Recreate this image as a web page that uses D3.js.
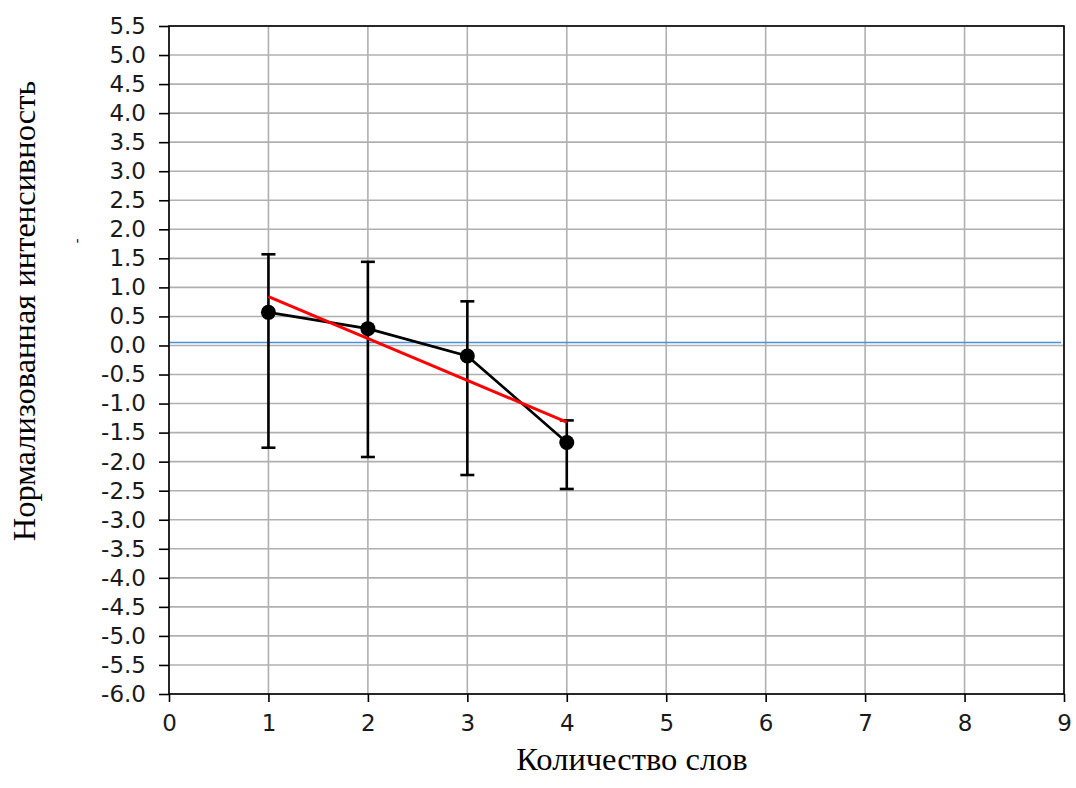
<!DOCTYPE html>
<html>
<head>
<meta charset="utf-8">
<script src="https://cdn.jsdelivr.net/npm/d3@7/dist/d3.min.js"></script>
<style>
  html, body { margin: 0; padding: 0; background: #fff; }
  .tick text { font-family: "DejaVu Sans", sans-serif; font-size: 23px; fill: #1a1a1a; }
  .lbl { font-family: "Liberation Serif", "Times New Roman", serif; font-size: 32.5px; fill: #000; }
</style>
</head>
<body>
<svg id="chart" width="1076" height="788"></svg>
<script>
// Normalised intensity vs number of words, with error bars and a linear fit.
const words = [1, 2, 3, 4];
const meanVals = [0.57, 0.29, -0.18, -1.67];
const errTop = [1.57, 1.44, 0.76, -1.29];
const errBottom = [-1.76, -1.92, -2.23, -2.47];
const fitX = [1, 4];
const fitY = [0.84, -1.32];
const baseX = [0, 8.97];
const baseY = [0.05, 0.05];
const xTicks = d3.range(0, 10, 1);
const yTicks = d3.range(-6, 5.51, 0.5);

const m = { t: 26, r: 12, b: 94, l: 169 };
const W = 1076, H = 788;
const svg = d3.select("#chart");
const x = d3.scaleLinear().domain([0, 9]).range([m.l, W - m.r]);
const y = d3.scaleLinear().domain([-6, 5.5]).range([H - m.b, m.t]);
// plain hyphen as the minus sign, like the reference
const yFmt = (d) => d3.format(".1f")(d).replace("\u2212", "-");

// grid
const grid = svg.append("g").attr("stroke", "#b0b0b0").attr("stroke-width", 1.6);
grid.selectAll("line.gx").data(xTicks).join("line").attr("class", "gx")
  .attr("x1", (d) => x(d)).attr("x2", (d) => x(d)).attr("y1", y(-6)).attr("y2", y(5.5));
grid.selectAll("line.gy").data(yTicks).join("line").attr("class", "gy")
  .attr("x1", x(0)).attr("x2", x(9)).attr("y1", (d) => y(d)).attr("y2", (d) => y(d));

// thin blue reference line
svg.append("path").datum(d3.zip(baseX, baseY))
  .attr("fill", "none").attr("stroke", "#4a90d9").attr("stroke-width", 1.5)
  .attr("d", d3.line().x((d) => x(d[0])).y((d) => y(d[1])));

// error bars
const eb = svg.append("g").attr("stroke", "#000").attr("stroke-width", 2.6);
words.forEach((w, i) => {
  eb.append("line").attr("x1", x(w)).attr("x2", x(w)).attr("y1", y(errTop[i])).attr("y2", y(errBottom[i]));
  [errTop[i], errBottom[i]].forEach((v) => {
    eb.append("line").attr("x1", x(w) - 7).attr("x2", x(w) + 7).attr("y1", y(v)).attr("y2", y(v));
  });
});

// mean line + markers
svg.append("path").datum(d3.zip(words, meanVals))
  .attr("fill", "none").attr("stroke", "#000").attr("stroke-width", 2.6)
  .attr("d", d3.line().x((d) => x(d[0])).y((d) => y(d[1])));
svg.selectAll("circle.pt").data(d3.zip(words, meanVals)).join("circle").attr("class", "pt")
  .attr("cx", (d) => x(d[0])).attr("cy", (d) => y(d[1])).attr("r", 7.5).attr("fill", "#000");

// linear fit
svg.append("path").datum(d3.zip(fitX, fitY))
  .attr("fill", "none").attr("stroke", "#ff0000").attr("stroke-width", 3)
  .attr("d", d3.line().x((d) => x(d[0])).y((d) => y(d[1])));

// axes
svg.append("g").attr("transform", `translate(0,${y(-6)})`)
  .call(d3.axisBottom(x).tickValues(xTicks).tickFormat(d3.format("d")).tickSize(8).tickPadding(13))
  .call((g) => g.select(".domain").remove())
  .call((g) => g.selectAll(".tick line").attr("stroke", "#000").attr("stroke-width", 1.6));
svg.append("g").attr("transform", `translate(${x(0)},0)`)
  .call(d3.axisLeft(y).tickValues(yTicks).tickFormat(yFmt).tickSize(10).tickPadding(13))
  .call((g) => g.select(".domain").remove())
  .call((g) => g.selectAll(".tick line").attr("stroke", "#000").attr("stroke-width", 1.6));

// frame
svg.append("rect").attr("x", x(0)).attr("y", y(5.5)).attr("width", x(9) - x(0)).attr("height", y(-6) - y(5.5))
  .attr("fill", "none").attr("stroke", "#000").attr("stroke-width", 1.6);

// labels
svg.append("text").attr("class", "lbl").attr("x", 632).attr("y", 770).attr("text-anchor", "middle")
  .text("Количество слов");
svg.append("text").attr("class", "lbl").attr("text-anchor", "middle")
  .attr("transform", "translate(35,311) rotate(-90)").text("Нормализованная интенсивность");
svg.append("text").attr("class", "lbl").style("font-size", "14px").attr("text-anchor", "middle")
  .attr("transform", "translate(81,241) rotate(-90)").text("-");
</script>
</body>
</html>
